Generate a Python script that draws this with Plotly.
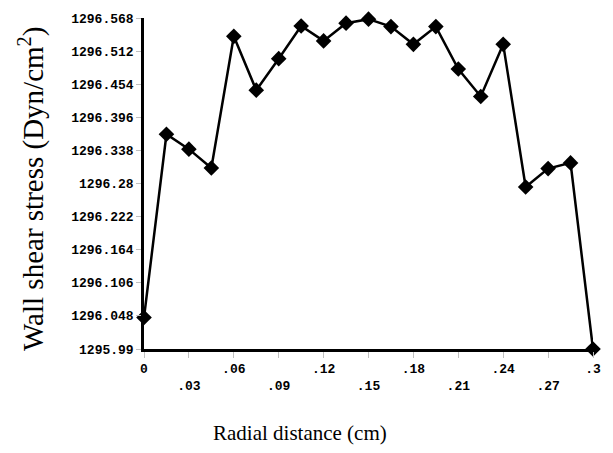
import plotly.graph_objects as go

radial_distance = [0, 0.015, 0.03, 0.045, 0.06, 0.075, 0.09, 0.105, 0.12, 0.135,
                   0.15, 0.165, 0.18, 0.195, 0.21, 0.225, 0.24, 0.255, 0.27, 0.285, 0.3]
wall_shear_stress = [1296.045, 1296.365, 1296.339, 1296.306, 1296.536, 1296.442,
                     1296.497, 1296.554, 1296.528, 1296.559, 1296.566, 1296.553,
                     1296.522, 1296.553, 1296.479, 1296.431, 1296.522, 1296.273,
                     1296.305, 1296.315, 1295.99]

x_tick_vals = [0, 0.03, 0.06, 0.09, 0.12, 0.15, 0.18, 0.21, 0.24, 0.27, 0.3]
x_tick_text = ["0", "<br>.03", ".06", "<br>.09", ".12", "<br>.15", ".18", "<br>.21",
               ".24", "<br>.27", ".3"]
y_tick_text = ["1295.99", "1296.048", "1296.106", "1296.164", "1296.222", "1296.28",
               "1296.338", "1296.396", "1296.454", "1296.512", "1296.568"]
y_min, y_max = 1295.99, 1296.568
y_tick_vals = [y_min + i * (y_max - y_min) / (len(y_tick_text) - 1) for i in range(len(y_tick_text))]

tick_font = dict(family="Liberation Mono", size=13, color="black", weight="bold")

fig = go.Figure()
fig.add_trace(go.Scatter(
    x=radial_distance, y=wall_shear_stress, mode="lines+markers",
    line=dict(color="black", width=2.5),
    marker=dict(symbol="diamond", size=12, color="black"),
    cliponaxis=False, showlegend=False,
))

fig.update_layout(
    width=613, height=453,
    margin=dict(l=144, r=20, t=14, b=104),
    paper_bgcolor="white", plot_bgcolor="white",
    xaxis=dict(range=[0, 0.3], tickvals=x_tick_vals, ticktext=x_tick_text,
               showgrid=False, zeroline=False, showline=True, linecolor="black",
               linewidth=2.5, ticks="outside", ticklen=6, tickcolor="#c0c0c0",
               tickwidth=1, tickfont=tick_font),
    yaxis=dict(range=[y_min, y_max], tickvals=y_tick_vals, ticktext=y_tick_text,
               showgrid=False, zeroline=False, showline=True, linecolor="black",
               linewidth=2.5, ticks="outside", ticklen=5, tickcolor="#c0c0c0",
               tickwidth=1, tickfont=tick_font),
    annotations=[
        dict(text="Radial distance (cm)", xref="paper", yref="paper",
             x=(300 - 144) / 449, y=-(434 - 349) / 335, xanchor="center", yanchor="middle",
             showarrow=False, font=dict(family="Liberation Serif", size=21, color="black")),
        dict(text="Wall shear stress (Dyn/cm<sup>2</sup>)", xref="paper", yref="paper",
             x=(32 - 144) / 449, y=(349 - 187) / 335, xanchor="center", yanchor="middle",
             textangle=-90, showarrow=False,
             font=dict(family="Liberation Serif", size=29, color="black")),
    ],
)

fig.write_html("out.html")
